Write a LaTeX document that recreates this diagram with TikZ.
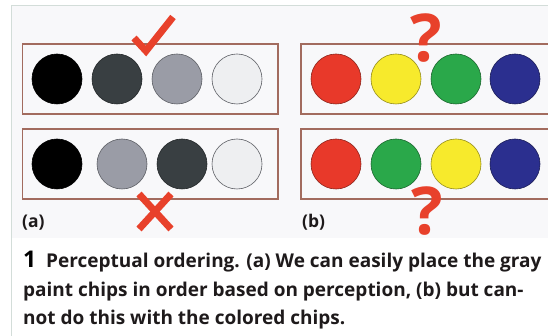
\documentclass[tikz,border=0pt]{standalone}
\usepackage{fontspec}
\setmainfont{Open Sans}
\definecolor{framec}{HTML}{D3DDD9}
\definecolor{panelc}{HTML}{F8F8FA}
\definecolor{boxc}{HTML}{A26B5E}
\definecolor{marksc}{HTML}{E8412B}
\definecolor{chipblack}{HTML}{000000}
\definecolor{chipdark}{HTML}{393F42}
\definecolor{chipgray}{HTML}{9A9CA6}
\definecolor{chiplight}{HTML}{EEEFF1}
\definecolor{chipred}{HTML}{E8392A}
\definecolor{chipyellow}{HTML}{F7EA2C}
\definecolor{chipgreen}{HTML}{2AA84A}
\definecolor{chipblue}{HTML}{2B2F8F}
\definecolor{captc}{HTML}{1E1A1B}
\begin{document}
\begin{tikzpicture}[x=1pt,y=-1pt,
  chip/.style={circle,minimum size=50pt,inner sep=0pt,draw=#1!60!black,line width=0.6pt},
  rowbox/.style={draw=boxc,line width=1.3pt,fill=none},
  markline/.style={draw=marksc,line width=7pt},
  qmark/.style={text=marksc,font=\fontsize{66}{66}\selectfont\bfseries,inner sep=0pt,anchor=base},
  plabel/.style={font=\fontsize{17.5}{17.5}\selectfont\bfseries,text=captc,inner sep=0pt,anchor=base west},
  capline/.style={font=\fontsize{19}{28}\selectfont\bfseries,text=captc,inner sep=0pt,anchor=base west}]
\useasboundingbox (0,0) rectangle (548,336);
\fill[white] (0,0) rectangle (548,336);
\fill[panelc] (11,6) rectangle (548,238);
\draw[framec,line width=1pt] (548,6) -- (11,6) -- (11,336);
% boxes
\draw[rowbox] (22.7,44) rectangle (278,114);
\draw[rowbox] (22.7,129) rectangle (278,199);
\draw[rowbox] (552,44) -- (301,44) -- (301,114) -- (552,114);
\draw[rowbox] (552,129) -- (301,129) -- (301,199) -- (552,199);
% left chips
\node[chip=chipblack,fill=chipblack] (a1) at (57,79) {};
\node[chip=chipdark,fill=chipdark] (a2) at (117,79) {};
\node[chip=chipgray,fill=chipgray] (a3) at (177,79) {};
\node[chip=chipgray,fill=chiplight] (a4) at (237,79) {};
\node[chip=chipblack,fill=chipblack] (b1) at (57,164) {};
\node[chip=chipgray,fill=chipgray] (b2) at (122,164) {};
\node[chip=chipdark,fill=chipdark] (b3) at (182,164) {};
\node[chip=chipgray,fill=chiplight] (b4) at (237,164) {};
% right chips
\node[chip=chipred,fill=chipred] (c1) at (336,79) {};
\node[chip=chipyellow,fill=chipyellow] (c2) at (396,79) {};
\node[chip=chipgreen,fill=chipgreen] (c3) at (456,79) {};
\node[chip=chipblue,fill=chipblue] (c4) at (515,79) {};
\node[chip=chipred,fill=chipred] (d1) at (336,164) {};
\node[chip=chipgreen,fill=chipgreen] (d2) at (396,164) {};
\node[chip=chipyellow,fill=chipyellow] (d3) at (456,164) {};
\node[chip=chipblue,fill=chipblue] (d4) at (515,164) {};
% check and cross
\coordinate (ck1) at (134,38);
\coordinate (ck2) at (146,51);
\coordinate (ck3) at (173,17);
\draw[markline] (ck1) -- (ck2) -- (ck3);
\coordinate (x1) at (139,194);
\coordinate (x2) at (171,229);
\coordinate (x3) at (171,194);
\coordinate (x4) at (139,229);
\draw[markline] (x1) -- (x2);
\draw[markline] (x3) -- (x4);
% question marks
\node[qmark] (q1) at (426,62) {?};
\node[qmark] (q2) at (427,235) {?};
% panel labels
\node[plabel] (la) at (22,228) {(a)};
\node[plabel] (lb) at (302,228) {(b)};
% caption
\node[capline] (cap1) at (23,268) {{\fontsize{23}{28}\selectfont\color{black}1}\ \ Perceptual ordering. (a) We can easily place the gray};
\node[capline] (cap2) at (23,296) {paint chips in order based on perception, (b) but can-};
\node[capline] (cap3) at (23,324) {not do this with the colored chips.};
\end{tikzpicture}
\end{document}
